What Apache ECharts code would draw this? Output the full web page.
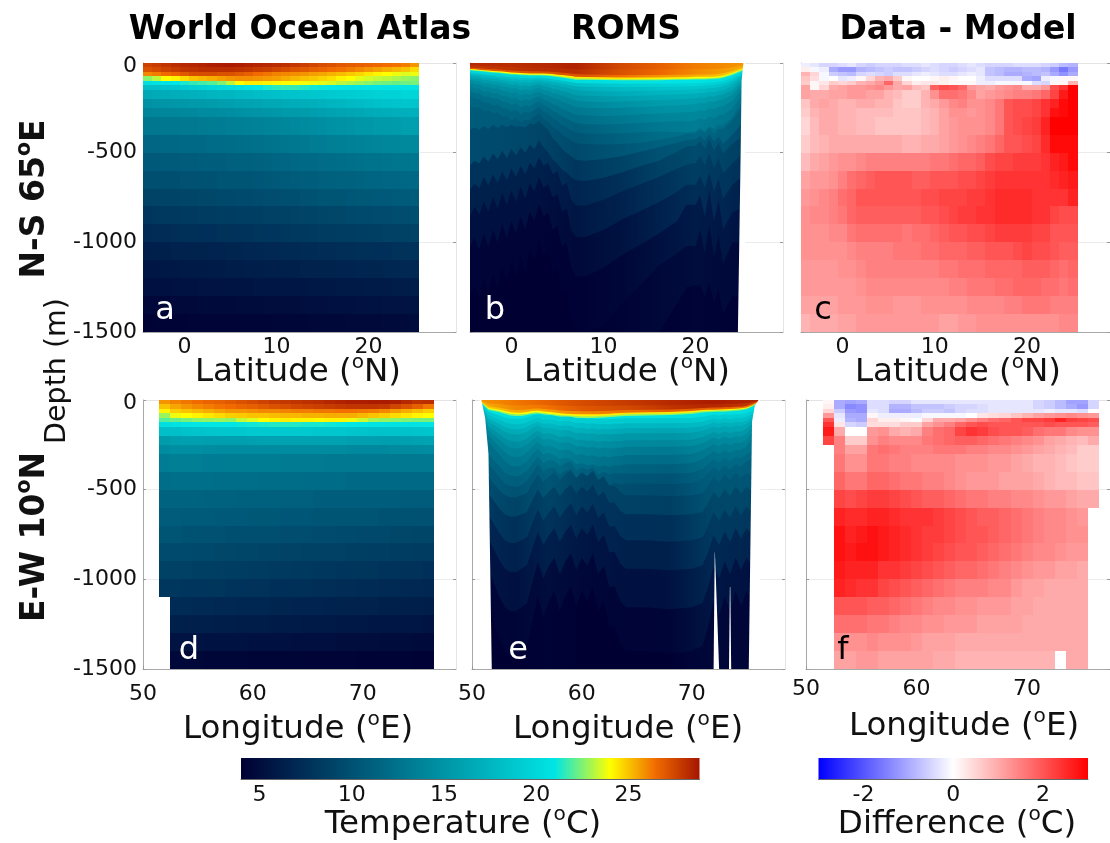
<!DOCTYPE html>
<html><head><meta charset="utf-8">
<script src="https://cdn.jsdelivr.net/npm/echarts@6/dist/echarts.min.js"></script>
<style>html,body{margin:0;padding:0;background:#fff;overflow:hidden}#c{width:1110px;height:843px}</style>
</head><body><div id="c"></div>
<script>
// ---------- shared axes ----------
const depthEdges=[0,25,50,75,100,125,150,200,250,300,400,500,600,700,800,900,1000,1100,1200,1300,1400,1500];
const latEdges=[-4.5,-3.5,-2.5,-1.5,-0.5,0.5,1.5,2.5,3.5,4.5,5.5,6.5,7.5,8.5,9.5,10.5,11.5,12.5,13.5,14.5,15.5,16.5,17.5,18.5,19.5,20.5,21.5,22.5,23.5,24.5,25.5];
const lonEdges=[51.5,52.5,53.5,54.5,55.5,56.5,57.5,58.5,59.5,60.5,61.5,62.5,63.5,64.5,65.5,66.5,67.5,68.5,69.5,70.5,71.5,72.5,73.5,74.5,75.5,76.5];
const latLabels=[0,10,20], latTicks=[0,5,10,15,20,25];
const lonLabels=[50,60,70], lonTicks=[50,55,60,65,70,75];
const tempTicks=[5,10,15,20,25], diffLabels=[-2,0,2], diffTicks=[-2,-1,0,1,2];
const tempStops=[4,21,24,26.5,29], tempColors=['#000033','#00e5e5','#ffff00','#f06a00','#a01000'];
const diffStops=[-3,0,3], diffColors=['#0000ff','#ffffff','#ff0000'];

// ---------- panel a: World Ocean Atlas, N-S 65E (rows by depth, columns by latitude) ----------
const woaNS=[
[27.6,27.8,28,28.2,28.3,28.4,28.5,28.6,28.7,28.7,28.6,28.5,28.4,28.3,28.2,28.1,27.9,27.7,27.5,27.3,27.2,27,26.9,26.8,26.7,26.6,26.5,26.4,26.2,25.8],
[27.2,27.4,27.6,27.8,28,28.1,28.2,28.2,28.2,28.2,28.1,28,27.8,27.7,27.5,27.3,27.1,27,26.8,26.7,26.5,26.4,26.2,26,25.8,25.6,25.4,25.2,25,24.6],
[26,26.2,26.5,26.7,27,27.3,27.3,27.3,27.2,27.2,27,26.8,26.5,26.3,26.1,26,25.9,25.8,25.6,25.5,25.3,25.1,24.9,24.7,24.4,24.2,24,23.8,23.6,23.8],
[22.6,23.2,24,24.2,24.6,25,25.2,25.4,25.6,25.8,25.9,25.9,25.8,25.7,25.6,25.4,25.2,25,24.9,24.7,24.5,24.2,24,23.7,23.5,23.3,23.2,23,22.8,22.6],
[20.5,20.7,20.8,21,21.3,21.6,21.8,22,22.5,23.2,24,24.3,24.3,24.2,24.1,24,24,23.9,23.8,23.7,23.5,23.2,23,22.8,22.6,22.4,22.3,22.2,22.3,22.4],
[18,18.2,18.4,18.6,19,19.3,19.5,19.8,20,20.3,20.5,20.8,21,21.3,21.5,21.6,21.6,21.4,21.2,21.1,21,20.9,20.8,20.8,20.8,20.8,20.8,20.8,20.8,20.9],
[16.5,16.6,16.8,16.9,17,17.1,17.2,17.4,17.5,17.6,17.8,17.9,18,18.2,18.3,18.4,18.5,18.6,18.7,18.8,19,19.1,19.2,19.3,19.4,19.5,19.6,19.7,19.8,19.8],
[14.8,15,15.1,15.2,15.3,15.4,15.5,15.6,15.7,15.8,16,16.1,16.2,16.4,16.5,16.7,16.8,16.9,17,17.2,17.4,17.5,17.7,17.9,18.1,18.3,18.4,18.5,18.6,18.6],
[13.8,13.9,14,14,14.1,14.2,14.3,14.4,14.5,14.6,14.7,14.9,15,15.1,15.2,15.4,15.5,15.6,15.8,15.9,16,16.2,16.3,16.5,16.6,16.8,16.9,17,17,17.1],
[12.8,12.8,12.9,12.9,13,13,13.1,13.2,13.3,13.4,13.5,13.6,13.7,13.8,13.9,14,14.2,14.3,14.5,14.6,14.8,14.9,15,15.2,15.3,15.4,15.5,15.6,15.7,15.8],
[11.6,11.6,11.7,11.7,11.8,11.8,11.9,12,12,12.1,12.2,12.3,12.4,12.5,12.6,12.7,12.9,13,13.2,13.3,13.4,13.5,13.6,13.7,13.8,13.9,14,14,14.1,14.1],
[10.6,10.6,10.7,10.7,10.8,10.8,10.9,11,11,11.1,11.2,11.2,11.3,11.4,11.5,11.6,11.7,11.8,11.9,12,12.1,12.2,12.3,12.4,12.5,12.5,12.6,12.7,12.7,12.8],
[9.8,9.8,9.9,9.9,10,10,10.1,10.1,10.2,10.2,10.3,10.3,10.4,10.5,10.6,10.7,10.8,10.9,11,11.1,11.2,11.3,11.3,11.4,11.5,11.5,11.6,11.6,11.7,11.7],
[9,9,9.1,9.1,9.2,9.2,9.3,9.3,9.4,9.4,9.5,9.5,9.6,9.7,9.7,9.8,9.9,10,10.1,10.2,10.3,10.3,10.4,10.5,10.5,10.6,10.6,10.7,10.7,10.8],
[8,8.1,8.2,8.2,8.3,8.3,8.4,8.4,8.5,8.5,8.6,8.6,8.7,8.8,8.8,8.9,9,9.1,9.1,9.2,9.3,9.3,9.4,9.5,9.5,9.6,9.6,9.7,9.7,9.8],
[7.2,7.3,7.3,7.4,7.5,7.5,7.6,7.6,7.7,7.7,7.8,7.8,7.9,8,8,8.1,8.2,8.2,8.3,8.4,8.4,8.5,8.5,8.6,8.7,8.7,8.8,8.8,8.9,9],
[6.3,6.4,6.4,6.5,6.5,6.6,6.6,6.7,6.7,6.8,6.8,6.9,6.9,7,7,7.1,7.1,7.2,7.2,7.3,7.3,7.4,7.4,7.5,7.5,7.6,7.6,7.7,7.7,7.8],
[5.7,5.7,5.8,5.8,5.9,5.9,5.9,6,6,6.1,6.1,6.2,6.2,6.3,6.3,6.4,6.4,6.5,6.5,6.6,6.6,6.7,6.7,6.8,6.8,6.8,6.9,6.9,7,7],
[5.2,5.2,5.2,5.3,5.3,5.3,5.4,5.4,5.4,5.5,5.5,5.5,5.6,5.6,5.6,5.7,5.7,5.7,5.8,5.8,5.8,5.9,5.9,5.9,6,6,6,6.1,6.1,6.2],
[4.6,4.6,4.6,4.7,4.7,4.7,4.8,4.8,4.8,4.8,4.9,4.9,4.9,5,5,5,5,5.1,5.1,5.1,5.2,5.2,5.2,5.3,5.3,5.3,5.4,5.4,5.4,5.5],
[4.1,4.2,4.2,4.2,4.2,4.3,4.3,4.3,4.3,4.3,4.4,4.4,4.4,4.4,4.5,4.5,4.5,4.5,4.6,4.6,4.6,4.6,4.7,4.7,4.7,4.7,4.8,4.8,4.8,4.9]];

// ---------- panel d: World Ocean Atlas, E-W 10N ----------
const woaEW=[
[25.8,26.1,26.3,26.5,26.7,26.8,27,27.2,27.4,27.6,27.8,27.9,28,28.1,28.2,28.4,28.5,28.6,28.6,28.7,28.7,28.6,28.3,28.1,28.2],
[25,25.5,25.8,26,26.2,26.4,26.5,26.7,26.8,27,27.2,27.3,27.5,27.6,27.7,27.8,27.9,28,28,28,27.9,27.5,27.2,26.8,26.3],
[24.2,24.8,25,25.2,25.4,25.6,25.8,25.8,25.9,26,26,26.1,26.2,26.2,26.3,26.3,26.4,26.4,26.3,26.2,26,25.7,25.4,25.1,24.8],
[22.8,23.8,24,24.2,24.4,24.6,24.8,24.9,25,25,25.1,25.2,25.2,25.3,25.3,25.4,25.4,25.4,25.2,25,24.8,24.6,24.4,24.2,24],
[22,22.2,22.4,22.6,22.7,22.8,22.7,23.3,23.6,24,24.2,24.3,24.2,24.2,24.1,24.2,24.2,23.8,23.4,22.9,22.7,22.6,22.5,22.4,22.4],
[20.5,20.7,20.9,21,21,21,21,21.1,21.2,21.3,21.4,21.4,21.4,21.3,21.3,21.2,21.1,21,21,20.9,20.8,20.8,20.8,20.8,20.9],
[18.2,18.2,18.4,18.5,18.6,18.7,18.8,18.8,18.9,18.9,19,19,19,18.9,18.8,18.8,18.7,18.6,18.5,18.4,18.4,18.4,18.4,18.5,18.6],
[15.6,15.8,15.9,15.9,15.8,15.8,15.8,15.8,15.9,16,16,16,16,16,16,16,16,15.9,15.9,15.9,15.8,15.8,15.9,16,16.1],
[14.4,14.6,14.6,14.6,14.5,14.4,14.4,14.4,14.4,14.4,14.4,14.4,14.4,14.4,14.4,14.3,14.3,14.2,14.2,14.2,14.2,14.3,14.3,14.4,14.5],
[13.3,13.4,13.4,13.4,13.3,13.3,13.2,13.2,13.2,13.2,13.2,13.1,13.1,13.1,13.1,13,13,13,13,13,13,13,13,13,13],
[12.2,12.3,12.3,12.3,12.3,12.2,12.2,12.2,12.2,12.1,12.1,12.1,12.1,12,12,12,12,11.9,11.9,11.9,11.9,11.8,11.8,11.8,11.8],
[11.4,11.4,11.4,11.4,11.3,11.3,11.3,11.2,11.2,11.2,11.2,11.1,11.1,11.1,11,11,11,11,10.9,10.9,10.9,10.9,10.8,10.8,10.8],
[10.8,10.8,10.7,10.7,10.7,10.6,10.6,10.6,10.5,10.5,10.5,10.4,10.4,10.4,10.3,10.3,10.3,10.2,10.2,10.2,10.1,10.1,10.1,10,10],
[10.2,10.2,10.1,10.1,10,10,9.9,9.9,9.9,9.8,9.8,9.7,9.7,9.7,9.6,9.6,9.5,9.5,9.4,9.4,9.4,9.3,9.3,9.2,9.2],
[9.6,9.5,9.5,9.4,9.4,9.3,9.3,9.2,9.2,9.1,9.1,9,9,8.9,8.9,8.8,8.8,8.7,8.7,8.6,8.6,8.5,8.5,8.4,8.4],
[8.9,8.8,8.8,8.7,8.7,8.6,8.5,8.5,8.4,8.4,8.3,8.3,8.2,8.2,8.1,8.1,8,8,7.9,7.9,7.8,7.8,7.7,7.7,7.6],
[8.1,8.1,8,8,7.9,7.9,7.8,7.8,7.7,7.7,7.6,7.6,7.5,7.5,7.4,7.4,7.3,7.3,7.2,7.2,7.1,7.1,7,7,6.9],
[null,7.2,7.2,7.1,7.1,7,7,6.9,6.9,6.9,6.8,6.8,6.7,6.7,6.7,6.6,6.6,6.5,6.5,6.5,6.4,6.4,6.3,6.3,6.2],
[null,6.4,6.3,6.3,6.3,6.2,6.2,6.1,6.1,6.1,6,6,6,5.9,5.9,5.9,5.8,5.8,5.8,5.7,5.7,5.7,5.6,5.6,5.5],
[null,5.4,5.4,5.4,5.3,5.3,5.3,5.3,5.2,5.2,5.2,5.2,5.1,5.1,5.1,5.1,5,5,5,5,4.9,4.9,4.9,4.8,4.8],
[null,4.6,4.6,4.6,4.5,4.5,4.5,4.5,4.4,4.4,4.4,4.4,4.4,4.3,4.3,4.3,4.3,4.3,4.2,4.2,4.2,4.2,4.2,4.1,4.1]];

// ---------- panel c: Data - Model, N-S 65E ----------
const diffNS=[
[-0.2,-0.3,-0.5,-0.5,-0.4,-0.3,-0.5,-0.6,-0.5,-0.5,-0.5,-0.4,-0.4,-0.3,-0.4,-0.5,-0.5,-0.4,-0.3,-0.4,-0.5,-0.5,-0.5,-0.4,-0.4,-0.4,-0.5,-0.6,-0.8,-0.9],
[0.2,-0.1,-0.2,-1,-1.2,-1.2,-0.9,-0.8,-0.7,-0.6,-0.7,-0.7,-0.6,-0.5,-0.4,-0.5,-0.6,-0.5,-0.4,-0.3,-0.7,-0.8,-0.9,-0.9,-0.8,-0.8,-0.9,-1.2,-1.6,-1.2],
[0.9,0.5,-0.1,-0.6,-0.7,-0.8,-0.5,-0.4,-0.5,-0.6,-0.4,-0.4,-0.3,-0.2,-0.3,-0.4,-0.4,-0.3,-0.2,-0.3,-0.7,-0.8,-1,-1,-0.9,-0.8,-0.7,-1,-1.3,-1],
[0.7,0.4,-0.1,0,-0.3,-0.2,0.1,0.5,0.9,1,0.6,0.1,0,0,0.1,0.2,0.1,0,0,-0.2,-0.4,-0.4,-0.4,-0.4,-1,-1.1,-0.2,-0.1,0.1,0.1],
[0.6,0.1,0.3,0.6,0.5,0.6,0.9,1,1.2,1.8,1,0.5,0.2,0.3,0.3,0.2,0.1,0.1,0.1,-0.2,-0.2,-0.1,-0.1,-0.1,-0.1,-0.4,-0.5,0.1,0.1,0.9],
[1.1,0.1,0.5,1,1.1,1.2,1.2,1.3,1.4,1.2,1,1.1,0.8,0.7,1.9,2.1,2,1.8,1.2,1.1,1,1.2,1.3,1.4,1,1,1.2,2.1,2.4,3],
[1.1,1,1,1.1,1.1,1.2,1.2,1.1,1.1,0.9,0.8,0.6,0.6,0.9,1.3,1.7,1.7,1.6,1.4,1.1,1.2,1.3,1.4,1.5,1.5,1.6,1.8,2.2,2.7,3],
[0.7,1,1.1,1,0.9,0.9,1,1,0.9,0.9,0.7,0.6,0.6,0.9,1,1.2,1.4,1.5,1.3,1.3,1.4,1.6,2,2.1,2.1,2.2,2.4,2.6,2.9,3],
[0.6,0.9,1,1,0.9,0.9,0.8,0.8,0.8,0.8,0.7,0.7,0.7,0.8,0.9,1.1,1.3,1.3,1.2,1.3,1.4,1.6,2,2.1,2.1,2.2,2.4,2.8,2.9,3],
[0.5,0.8,1,1,0.9,0.9,0.8,0.8,0.7,0.7,0.7,0.7,0.7,0.8,0.9,1.1,1.2,1.3,1.3,1.3,1.4,1.6,2,2.1,2.2,2.3,2.6,3,3,3],
[0.6,0.8,0.9,1,1,1,1,1,1,1,1,0.9,0.9,1,1,1.1,1.2,1.3,1.4,1.5,1.6,1.8,2,2,2.1,2.2,2.5,2.9,2.9,2.9],
[0.8,1,1.1,1.2,1.3,1.3,1.4,1.5,1.5,1.5,1.5,1.5,1.5,1.5,1.6,1.6,1.7,1.8,1.8,1.9,2.1,2.2,2.2,2.3,2.3,2.3,2.4,2.6,2.7,2.9],
[1.1,1.2,1.2,1.3,1.5,1.7,1.8,1.9,2,2,2,2,1.9,1.9,2,2,2,2.1,2.1,2.2,2.3,2.4,2.4,2.4,2.4,2.4,2.4,2.5,2.6,2.7],
[1.2,1.3,1.4,1.5,1.7,1.8,2,2,2,2,2,2,2,2.1,2.1,2.2,2.2,2.2,2.3,2.3,2.4,2.5,2.5,2.5,2.5,2.4,2.4,2.4,2.4,2.6],
[1.3,1.4,1.4,1.5,1.6,1.8,1.9,1.9,1.9,1.9,1.9,1.9,1.9,2,2,2.1,2.2,2.3,2.3,2.4,2.4,2.5,2.5,2.5,2.5,2.4,2.4,2.2,2.1,2.1],
[1.3,1.3,1.3,1.4,1.4,1.6,1.7,1.7,1.7,1.7,1.7,1.6,1.7,1.7,1.8,1.9,2,2,2.1,2.1,2.2,2.3,2.3,2.3,2.3,2.2,2.2,2,2,2],
[1.3,1.3,1.3,1.3,1.3,1.4,1.5,1.5,1.5,1.5,1.6,1.6,1.6,1.7,1.7,1.8,1.8,1.8,1.9,1.9,2,2,2,2.1,2.2,2.1,2.1,2,1.9,1.9],
[1.2,1.2,1.2,1.2,1.3,1.3,1.4,1.5,1.5,1.5,1.5,1.5,1.5,1.5,1.5,1.6,1.6,1.7,1.7,1.7,1.8,1.8,1.8,1.8,1.9,1.9,1.9,1.8,1.7,1.8],
[1.2,1.2,1.2,1.2,1.2,1.2,1.3,1.4,1.4,1.4,1.4,1.4,1.4,1.4,1.4,1.4,1.5,1.5,1.6,1.6,1.6,1.7,1.7,1.8,1.8,1.8,1.7,1.7,1.6,1.7],
[1.1,1.1,1.1,1.1,1.2,1.2,1.2,1.3,1.3,1.3,1.2,1.2,1.2,1.3,1.3,1.3,1.3,1.3,1.4,1.4,1.4,1.4,1.5,1.5,1.6,1.6,1.6,1.5,1.5,1.5],
[0.9,1,1,1,1.1,1.1,1.2,1.2,1.2,1.2,1.2,1.2,1.2,1.2,1.2,1.1,1.1,1.2,1.2,1.3,1.3,1.3,1.3,1.3,1.3,1.3,1.3,1.3,1.4,1.4]];

// ---------- panel f: Data - Model, E-W 10N ----------
const diffEW=[
[0.1,-1,-1.1,-1,-0.4,-0.4,-0.5,-0.5,-0.3,-0.3,-0.3,-0.3,-0.3,-0.3,-0.3,-0.3,-0.3,-0.3,-0.3,-0.5,-0.6,-0.8,-1.1,-1.1,-0.5],
[0.2,-1,-1.4,-1.3,-0.4,-0.4,-0.9,-0.9,-0.7,-0.7,-0.7,-0.6,-0.5,-0.5,-0.4,-0.3,-0.3,-0.3,-0.3,-0.5,-0.6,-0.8,-1,-1.2,-0.5],
[0.5,-0.6,-1.2,-1.3,-0.3,-0.4,-1,-1,-0.8,-0.6,-0.6,-0.7,-0.5,-0.4,-0.4,-0.3,-0.3,-0.3,-0.3,-0.3,-0.2,-0.3,-0.3,-0.4,0],
[1.2,-0.3,-1,-1,0.1,-0.2,-0.2,-0.2,-0.2,-0.1,-0.1,-0.1,-0.1,0,0.3,0.4,0.5,0.7,0.9,1.1,1.2,1.3,1.4,1.3,1.2],
[2,-0.2,-0.9,-1,0.5,0.2,0.2,0.1,0,0.5,1,1,1.1,1.3,1.5,1.7,1.8,2,2.2,2.2,2.3,2.6,2.3,2.2,2.1],
[2.4,0.3,-0.5,-0.6,0.4,0.4,0.4,0.6,0.6,1.1,1.3,1.5,1.8,2,2.1,2,2,2,2,2,2.1,2,2,2,1.9],
[2.7,1,0,0,1.2,1.3,1,0.9,1,1.5,1.7,1.8,2.2,2.4,2.3,2.1,2,2,1.9,1.7,1.6,1.6,1.4,1.3,1.3],
[2.2,1.5,0.6,0.6,1.3,1.5,1.4,1.4,1.4,1.6,1.7,1.8,1.9,1.9,1.8,1.7,1.6,1.5,1.4,1.3,1.1,1,0.9,0.8,1],
[null,1.5,1.1,1.1,1.6,1.7,1.6,1.5,1.5,1.5,1.6,1.6,1.6,1.5,1.5,1.4,1.4,1.3,1.2,1.1,1,0.9,0.8,0.6,0.6],
[null,1.6,1.3,1.3,1.6,1.6,1.5,1.5,1.4,1.4,1.4,1.4,1.3,1.3,1.3,1.2,1.2,1.1,1,0.9,0.9,0.8,0.7,0.6,0.6],
[null,1.8,1.6,1.6,1.8,1.8,1.7,1.6,1.6,1.5,1.5,1.4,1.3,1.2,1.2,1.2,1.1,1.1,1.1,1,0.9,0.8,0.8,0.7,0.7],
[null,2.2,2.1,2.2,2.3,2.3,2.2,2.1,2,1.9,1.9,1.8,1.7,1.6,1.6,1.5,1.5,1.4,1.4,1.3,1.2,1.2,1.1,1,1],
[null,2.6,2.5,2.5,2.6,2.6,2.5,2.4,2.4,2.4,2.3,2.2,2.1,2,1.9,1.9,1.8,1.7,1.6,1.5,1.4,1.4,1.3,1.2,null],
[null,2.8,2.6,2.7,2.8,2.7,2.6,2.5,2.4,2.3,2.3,2.2,2.1,2,2,1.9,1.8,1.7,1.6,1.5,1.4,1.4,1.3,1.3,null],
[null,2.8,2.7,2.8,2.8,2.7,2.6,2.5,2.4,2.3,2.2,2.1,2,2,1.9,1.8,1.7,1.6,1.5,1.4,1.4,1.3,1.2,1.2,null],
[null,2.7,2.6,2.6,2.6,2.4,2.4,2.3,2.2,2.1,2,1.9,1.8,1.8,1.7,1.6,1.5,1.4,1.3,1.2,1.2,1.1,1.1,1,null],
[null,2.6,2.5,2.4,2.4,2.2,2.1,2,1.9,1.8,1.7,1.6,1.5,1.5,1.5,1.4,1.4,1.2,1.1,1.1,1,1,1,1,null],
[null,2,2,2,1.9,1.9,1.8,1.7,1.6,1.5,1.4,1.4,1.3,1.3,1.2,1.2,1.2,1.1,1.1,1,1,1,1,1,null],
[null,1.7,1.7,1.7,1.6,1.6,1.5,1.4,1.4,1.3,1.3,1.2,1.2,1.2,1.1,1.1,1.1,1.1,1,1,1,1,1,1,null],
[null,1.3,1.3,1.3,1.4,1.3,1.3,1.3,1.2,1.1,1.1,1.1,1,1,1,1,1,1,1,1,1,1,1,1,null],
[null,1.1,1.1,1.2,1.2,1.1,1.1,1.1,1.1,1.1,1,1,0.9,0.9,0.9,0.9,0.9,0.9,0.9,0.9,0.9,null,1,1,null]];

// ---------- panel b: ROMS N-S, model layers (layer tops in m along romsNSLat; temperature along romsNSAnchor) ----------
const romsNSLat=[-4.5,-4,-3.5,-3,-2.5,-2,-1.5,-1,-0.5,0,0.5,1,1.5,2,2.5,3,3.5,4,4.5,5,5.5,6,6.5,7,8,10,12,14,16,18,19,20,20.5,21,21.5,22,22.5,23,24,25.3];
const romsNSAnchor=[-4.5,0,3,7,12,16,20,25.3];
const romsNSTops=[
[0,0,0,0,0,0,0,0,0,0,0,0,0,0,0,0,0,0,0,0,0,0,0,0,0,0,0,0,0,0,0,0,0,0,0,0,0,0,0,0],
[14,15,16,17,18,19,20,21,22,23,24,25,26,26,26,26,27,28,29,30,31,32,34,35,36,36,36,36,36,35,35,34,34,34,34,33,32,30,24,12],
[26,28,29,31,33,34,36,38,40,42,43,44,45,46,46,46,47,48,50,52,54,56,59,62,64,66,67,67,67,66,66,64,64,64,64,63,61,57,45,24],
[33,35,37,40,42,44,46,48,50,53,54,56,57,58,58,58,59,60,62,65,67,70,73,76,78,80,81,81,81,79,79,77,77,77,77,76,74,70,55,30],
[37,40,42,45,48,50,52,54,57,60,61,63,64,65,65,65,66,67,70,73,76,79,82,86,87,89,90,90,89,88,88,86,86,86,85,84,82,78,62,35],
[41,44,46,49,52,54,56,59,62,65,66,68,69,70,70,70,71,72,75,78,81,85,89,93,94,95,96,96,96,94,94,92,92,92,91,90,88,84,68,40],
[52,56,58,62,64,67,69,73,76,80,80,84,83,85,83,82,85,86,92,94,99,102,107,111,113,115,116,116,115,114,113,112,111,110,109,108,105,100,84,50],
[60,64,66,71,73,77,79,84,87,92,91,97,95,98,94,92,97,99,106,108,114,118,125,130,132,134,135,134,133,131,130,128,127,126,124,123,119,114,98,58],
[68,73,75,82,83,88,89,96,99,105,103,112,108,112,106,103,110,113,122,124,132,137,145,152,155,157,157,155,153,150,148,146,144,144,140,140,135,130,112,66],
[78,85,86,96,96,103,103,112,114,123,119,131,125,130,122,118,128,132,143,146,156,162,171,180,183,186,185,182,179,175,173,170,167,168,162,163,156,151,131,78],
[92,100,101,113,113,121,121,132,134,144,140,154,147,153,144,138,150,155,168,172,184,191,201,210,214,217,215,211,207,202,200,197,192,194,186,188,179,174,152,92],
[108,118,119,133,133,143,142,155,157,169,164,180,172,178,167,160,174,180,196,201,216,224,235,245,250,252,250,245,240,235,233,229,222,226,215,218,207,202,178,108],
[130,142,143,159,159,170,169,184,186,200,193,212,202,208,195,186,204,211,230,237,255,265,277,288,293,296,293,286,281,276,274,270,262,268,252,258,244,240,212,130],
[155,168,169,187,187,200,198,215,218,234,226,247,236,241,226,215,236,245,268,277,298,310,323,335,341,343,340,333,328,325,325,320,308,318,298,308,290,288,255,155],
[185,200,201,221,220,235,233,252,254,272,263,286,273,278,260,246,272,283,310,322,346,360,375,387,393,395,392,385,382,385,386,382,362,378,352,368,345,348,305,190],
[240,250,248,268,262,282,276,300,298,320,306,332,316,320,298,282,314,326,358,372,400,416,432,446,452,454,451,445,430,410,395,390,368,392,358,395,368,370,318,230],
[370,360,372,350,368,345,362,345,358,345,355,352,360,338,345,320,350,375,420,445,480,502,522,539,545,535,520,495,470,445,430,425,405,432,398,438,410,450,400,320],
[570,545,560,520,550,505,535,490,530,480,515,470,500,455,480,430,470,500,540,560,595,612,637,654,658,640,610,575,545,495,465,462,435,478,425,488,445,505,450,400],
[706,672,698,636,682,620,668,604,652,588,636,572,620,556,588,524,572,556,620,604,684,668,763,795,795,763,715,676,636,588,567,557,520,570,505,585,530,615,557,500],
[855,800,845,770,830,745,810,725,790,710,775,690,755,670,715,635,695,675,750,730,830,810,930,970,970,931,873,825,776,718,679,679,630,695,610,715,645,755,679,620],
[1022,975,1040,950,1025,930,1000,900,975,880,950,855,930,830,880,785,855,835,930,905,1025,1000,1140,1190,1190,1142,1071,1012,952,881,790,790,738,857,714,881,762,928,833,800],
[1300,1240,1320,1200,1290,1170,1260,1130,1220,1100,1190,1070,1160,1040,1100,980,1070,1040,1160,1130,1280,1250,1420,1500,1500,1460,1340,1240,1130,1060,1020,1020,930,1060,900,1080,960,1120,1000,1000],
[1500,1500,1500,1500,1500,1500,1500,1500,1500,1500,1500,1500,1500,1500,1500,1500,1500,1500,1500,1500,1500,1500,1500,1500,1500,1500,1500,1500,1500,1340,1250,1240,1240,1300,1220,1340,1260,1400,1300,1300]];
const romsNSTemps=[
[28.3,28.2,28.3,28.5,27.4,26.8,26.2,25.8],[28,28,28.2,28.2,27.2,26.6,26,25.4],[27,27,27.2,27.2,26.4,25.8,25.4,24.8],
[24,24,24,24.4,24.4,24.2,24,23.6],[22,22,22.2,22.8,22.8,22.8,22.4,22],[20,19.8,20,20.3,20.6,20.8,20.8,20.2],
[18.6,18.4,18.4,18.2,19,19.6,19.8,19],[17.6,17.4,17.3,16.8,17.8,18.4,18.8,18],[16.6,16.4,16.3,15.8,16.8,17.4,17.8,17],
[15.6,15.4,15.3,14.8,15.8,16.5,16.8,16],[14.6,14.5,14.4,13.8,14.8,15.6,15.8,15],[13.8,13.7,13.5,12.9,13.8,14.7,14.9,14],
[13,12.9,12.6,12,12.9,13.8,14,13.2],[12.2,12.1,11.8,11,12,12.9,13.2,12.4],[11.5,11.3,11,10.2,11.2,12,12.4,11.6],
[10.8,10.6,10.2,9.4,10.3,11.2,11.6,10.8],[9.6,9.4,9.2,8,9,10,10.6,9.6],[7.8,7.8,7.8,6.7,7.6,8.8,9.6,8.6],
[6.4,6.4,6.4,5.6,6.5,7.6,8.6,7.6],[5.2,5.2,5.2,4.7,5.3,6.4,7.4,6.4],[4.3,4.3,4.3,4.1,4.5,5.2,6,5.4],
[4,4,4,4,4.2,4.6,5,4.6],[4,4,4,4,4,4.1,4.3,4.1]];
const romsNSLand=[[[25.4,0],[25.2,0],[25,100],[24.9,500],[24.6,1500],[25.4,1500]]];

// ---------- panel e: ROMS E-W ----------
const romsEWLon=[50.8,51.5,52.5,53,53.5,54,54.5,55,55.5,56,56.5,57,57.5,58,58.5,59,59.5,60,60.5,61,61.5,62,62.5,63,63.5,64,66,68,70,71,71.5,72,72.5,73,73.5,74,74.5,75,75.5,76.2];
const romsEWAnchor=[50.8,54,57,60,64,68,72,76.2];
const romsEWTops=[
[0,0,0,0,0,0,0,0,0,0,0,0,0,0,0,0,0,0,0,0,0,0,0,0,0,0,0,0,0,0,0,0,0,0,0,0,0,0,0,0],
[4,19,23,27,29,30,30,29,27,26,27,29,30,32,32,33,34,34,34,34,34,33,32,32,31,30,29,29,27,24,23,23,22,22,21,21,20,18,13,3],
[8,35,43,49,54,56,56,53,49,47,50,53,55,59,60,61,62,63,63,63,62,62,60,59,57,56,54,53,49,44,43,42,42,41,40,38,37,33,23,6],
[10,45,54,62,69,71,71,67,62,60,64,67,70,74,76,78,79,80,80,80,79,78,76,74,73,71,69,67,62,56,54,54,53,52,50,49,46,42,30,8],
[11,50,61,70,77,80,80,76,70,68,72,76,79,84,86,87,89,90,90,90,89,88,86,84,82,80,77,76,70,63,61,60,59,59,57,55,52,47,33,9],
[12,56,68,78,86,89,89,84,78,75,80,84,88,93,95,97,99,100,100,100,99,98,95,93,91,89,86,84,78,70,68,67,66,65,63,61,58,52,37,10],
[20,66,87,97,104,106,104,97,87,78,87,84,88,94,92,94,102,100,104,102,106,104,106,104,104,102,102,102,100,94,88,82,86,80,84,80,80,73,61,20],
[26,85,110,124,133,135,133,124,110,99,110,107,112,120,117,120,130,127,133,130,135,133,135,133,133,130,130,130,127,120,112,104,109,101,107,101,101,94,78,26],
[32,103,134,150,161,164,161,150,134,120,134,130,136,145,142,145,158,155,161,158,164,161,164,161,161,158,158,158,155,145,136,126,133,123,130,123,123,114,95,32],
[37,121,158,177,190,193,190,177,158,141,158,153,160,171,167,171,186,182,190,186,193,190,193,190,190,186,186,186,182,171,160,149,156,145,153,145,145,134,112,37],
[45,146,190,213,228,233,228,213,190,170,190,184,193,206,202,206,224,220,228,224,233,228,233,228,228,224,224,224,220,206,193,179,188,175,184,175,175,161,134,45],
[52,170,222,248,266,271,266,248,222,198,222,214,224,240,235,240,261,256,266,261,271,266,271,266,266,261,261,261,256,240,224,209,219,204,214,204,204,188,157,52],
[61,200,261,292,313,319,313,292,261,233,261,252,264,282,276,282,307,301,313,307,319,313,319,313,313,307,307,307,301,282,264,246,258,239,252,239,239,221,184,61],
[72,233,304,340,365,372,365,340,304,272,304,294,308,329,322,329,358,351,365,358,372,365,372,365,365,358,358,358,351,329,308,286,301,279,294,279,279,258,215,72],
[140,300,370,405,420,428,418,395,355,315,352,335,340,370,350,345,395,375,390,375,415,400,415,405,410,410,410,410,405,385,358,330,350,322,342,318,325,300,280,140],
[190,355,430,465,480,485,475,450,405,360,400,378,380,415,395,385,440,415,435,410,465,445,475,460,470,466,466,470,462,440,408,375,400,365,390,358,372,340,330,190],
[300,430,505,531,542,542,531,520,467,414,457,425,404,446,414,393,435,404,425,393,446,425,478,478,515,531,531,536,531,520,478,425,457,414,446,404,435,404,425,330],
[382,522,605,637,650,650,637,624,560,497,548,510,484,535,497,471,522,484,510,471,535,510,573,573,618,637,637,643,637,624,573,510,548,497,535,484,522,484,510,420],
[470,641,743,782,798,798,782,766,688,610,673,626,594,657,610,579,641,594,626,579,657,626,704,704,759,782,782,790,782,766,704,626,673,610,657,594,641,594,626,547],
[565,772,894,941,960,960,941,922,828,734,809,753,715,790,734,696,772,715,753,696,790,753,847,847,913,941,941,950,941,922,847,753,809,734,790,715,772,715,753,659],
[693,947,1097,1155,1178,1178,1155,1132,1016,901,993,924,878,970,901,855,947,878,924,855,970,924,1040,1040,1120,1155,1155,1167,1155,1132,1040,924,993,901,970,878,947,878,924,808],
[840,1148,1330,1400,1428,1428,1400,1372,1232,1092,1204,1120,1064,1176,1092,1036,1148,1064,1120,1036,1176,1120,1260,1260,1358,1400,1400,1414,1400,1372,1260,1120,1204,1092,1176,1064,1148,1064,1120,980]];
const romsEWTemps=[
[25.8,26.3,26.8,27.3,27.8,28.3,28.7,28.4],[25.4,26,26.4,27,27.4,28,28.4,27.8],[24.8,25.4,25.6,26,26.4,26.8,26.8,26.2],
[23.8,24,24,24.2,24.4,24.4,24.2,24],[22.4,22.6,22.6,22.8,22.8,22.8,22.4,22.2],[20.6,20.6,20.8,20.8,20.8,20.6,20.5,20.4],
[19,19,19.6,19.3,19,18.8,19.2,19.3],[18,17.8,18.6,18.1,17.6,17.4,18,18.3],[17,16.6,17.6,17,16.4,16.2,17,17.3],
[16,15.5,16.6,15.8,15.2,15,16,16.3],[15,14.5,15.6,14.8,14.2,14,15,15.3],[14,13.6,14.7,13.8,13.2,13,14,14.4],
[13.2,12.7,13.8,12.8,12.2,12,13.1,13.5],[12.4,11.8,12.9,11.9,11.3,11,12.3,12.6],[11.6,10.9,12,11,10.4,10.1,11.6,11.8],
[10.8,10,11.1,10.1,9.7,9.4,11,11],[9.8,9,10.2,9.2,8.8,8.7,10.2,10.2],[8.4,7.6,9,8,7.6,7.5,9.3,9.2],
[7,6.4,7.8,6.8,6.4,6.4,8.3,8],[5.6,5.2,6.4,5.6,5.2,5.3,7,6.6],[4.4,4.4,5,4.6,4.3,4.4,5.6,5.2],[4,4,4.2,4,4,4,4.6,4.4]];
const romsEWLand=[
[[50.7,0],[50.85,0],[51.2,100],[51.5,300],[51.8,1500],[50.7,1500]],
[[76.25,0],[76.1,0],[75.75,30],[75.5,120],[75.2,1500],[76.25,1500]],
[[72.1,850],[72.12,850],[72.5,1500],[72,1500]],
[[73.48,1043],[73.52,1043],[73.6,1500],[73.4,1500]]];

// ---------- helpers ----------
const FONT='DejaVu Sans';
function hex(c){return [1,3,5].map(i=>parseInt(c.substr(i,2),16));}
function ramp(stops,cols,v){
  if(v<=stops[0])return cols[0];
  for(let i=1;i<stops.length;i++){ if(v<=stops[i]){
    const t=(v-stops[i-1])/(stops[i]-stops[i-1]),a=hex(cols[i-1]),b=hex(cols[i]);
    return 'rgb('+a.map((x,j)=>Math.round(x+(b[j]-x)*t)).join(',')+')';}}
  return cols[cols.length-1];
}
const tempCol=v=>ramp(tempStops,tempColors,v), diffCol=v=>ramp(diffStops,diffColors,v);

function cellSeries(idx,rows,xe,colorFn){
  const data=[];
  rows.forEach((r,j)=>r.forEach((v,i)=>{ if(v!==null) data.push([xe[i],xe[i+1],depthEdges[j],depthEdges[j+1],v]); }));
  return {type:'custom',xAxisIndex:idx*2,yAxisIndex:idx*2,z:3,silent:true,data,encode:{x:[0,1],y:[2,3]},
    renderItem(p,api){
      const a=api.coord([api.value(0),-api.value(2)]),b=api.coord([api.value(1),-api.value(3)]);
      const x=Math.round(a[0]),y=Math.round(a[1]);
      return {type:'rect',shape:{x,y,width:Math.round(b[0])-x,height:Math.round(b[1])-y},style:{fill:colorFn(api.value(4))}};
    }};
}
function layerSeries(idx,xs,anchors,tops,temps){
  return {type:'custom',xAxisIndex:idx*2,yAxisIndex:idx*2,z:3,silent:true,clip:true,data:tops.map((_,k)=>[k]),encode:{x:[],y:[]},
    renderItem(p,api){
      const k=api.value(0), pts=xs.map((x,i)=>api.coord([x,-tops[k][i]]));
      pts.push(api.coord([xs[xs.length-1],-1500]),api.coord([xs[0],-1500]));
      const x0=api.coord([anchors[0],0])[0],x1=api.coord([anchors[anchors.length-1],0])[0];
      const stops=anchors.map((a,i)=>({offset:(api.coord([a,0])[0]-x0)/(x1-x0),color:tempCol(temps[k][i])}));
      return {type:'polygon',shape:{points:pts},style:{fill:new echarts.graphic.LinearGradient(x0,0,x1,0,stops,true)}};
    }};
}
function landSeries(idx,polys){
  return {type:'custom',xAxisIndex:idx*2,yAxisIndex:idx*2,z:4,silent:true,data:polys.map((_,k)=>[k]),encode:{x:[],y:[]},
    renderItem(p,api){
      return {type:'polygon',shape:{points:polys[api.value(0)].map(q=>api.coord([q[0],-q[1]]))},style:{fill:'#fff'}};
    }};
}
const grids=[],xAxes=[],yAxes=[];
function panel(left,top,width,min,max,labels,ticks,showY,margin){
  const g=grids.length;
  grids.push({left,top,width,height:269});
  const lineDark={show:true,onZero:false,lineStyle:{color:'#a8a8a8',width:1}}, lineLight={show:true,onZero:false,lineStyle:{color:'#e4e4e4',width:1}};
  xAxes.push({type:'value',gridIndex:g,position:'bottom',min,max,axisLine:lineDark,splitLine:{show:false},
    axisTick:{show:true,inside:true,length:3,lineStyle:{color:'#999'},customValues:ticks},
    axisLabel:{show:true,customValues:labels,fontFamily:FONT,fontSize:22,color:'#111',margin}});
  xAxes.push({type:'value',gridIndex:g,position:'top',min,max,axisLine:lineLight,splitLine:{show:false},
    axisTick:{show:true,inside:true,length:3,lineStyle:{color:'#aaa'},customValues:ticks},axisLabel:{show:false}});
  yAxes.push({type:'value',gridIndex:g,position:'left',min:-1500,max:0,interval:500,axisLine:lineDark,
    splitLine:{show:true,lineStyle:{color:'#ececec',width:1}},
    axisTick:{show:true,inside:true,length:3,lineStyle:{color:'#999'}},
    axisLabel:{show:showY,fontFamily:FONT,fontSize:22,color:'#111',margin:6,
      formatter:v=>v===0?'{z|0}':String(v),rich:{z:{fontFamily:FONT,fontSize:22,color:'#111',padding:[6,0,0,0]}}}});
  yAxes.push({type:'value',gridIndex:g,position:'right',min:-1500,max:0,interval:500,axisLine:lineLight,splitLine:{show:false},
    axisTick:{show:true,inside:true,length:3,lineStyle:{color:'#999'}},axisLabel:{show:false}});
}
panel(143,63,313,-4.5,29.5,latLabels,latTicks,true,4);
panel(470,63,313,-4.5,29.5,latLabels,latTicks,false,4);
panel(801,63,309,-4.5,29,latLabels,latTicks,false,4);
panel(143,400,313,50,78.5,lonLabels,lonTicks,true,14);
panel(472,400,313,50,78.5,lonLabels,lonTicks,false,14);
panel(806,400,304,50,77.5,lonLabels,lonTicks,false,9);

function colorbar(left,width,min,max,labels,ticks,stops,cols,s){
  const g=grids.length;
  grids.push({left,top:758,width,height:21});
  xAxes.push({type:'value',gridIndex:g,position:'bottom',min,max,
    axisLine:{show:true,onZero:false,lineStyle:{color:'#666'}},splitLine:{show:false},
    axisTick:{show:true,inside:true,length:4,lineStyle:{color:'#555'},customValues:ticks},
    axisLabel:{show:true,customValues:labels,fontFamily:FONT,fontSize:22,color:'#111',margin:5}});
  yAxes.push({type:'value',gridIndex:g,min:0,max:1,show:false});
  s.push({type:'custom',xAxisIndex:xAxes.length-1,yAxisIndex:yAxes.length-1,z:1,silent:true,data:[[min,max]],encode:{x:[0,1],y:[]},
    renderItem(p,api){
      const a=api.coord([api.value(0),1]),b=api.coord([api.value(1),0]);
      const grad=stops.filter(v=>v<=max).map((v,i)=>({offset:(v-min)/(max-min),color:cols[i]}));
      grad.push({offset:1,color:ramp(stops,cols,max)});
      return {type:'rect',shape:{x:a[0],y:a[1],width:b[0]-a[0],height:b[1]-a[1]},
        style:{fill:new echarts.graphic.LinearGradient(a[0],0,b[0],0,grad,true)}};
    }});
}
const series=[
  cellSeries(0,woaNS,latEdges,tempCol),
  layerSeries(1,romsNSLat,romsNSAnchor,romsNSTops,romsNSTemps), landSeries(1,romsNSLand),
  cellSeries(2,diffNS,latEdges,diffCol),
  cellSeries(3,woaEW,lonEdges,tempCol),
  layerSeries(4,romsEWLon,romsEWAnchor,romsEWTops,romsEWTemps), landSeries(4,romsEWLand),
  cellSeries(5,diffEW,lonEdges,diffCol)];
colorbar(241,458.5,4,28.85,tempTicks,tempTicks,tempStops,tempColors,series);
colorbar(818.5,269.5,-3,3,diffLabels,diffTicks,diffStops,diffColors,series);

// ---------- text ----------
function richFor(size,weight){return {
  t:{fontFamily:FONT,fontSize:size,fontWeight:weight,fill:'#111',lineHeight:size*1.25},
  s:{fontFamily:FONT,fontSize:size*0.62,fontWeight:weight,fill:'#111',lineHeight:size*1.25,verticalAlign:'top',padding:[0,0,size*0.35,0]}};}
function sup(a,b){return '{t|'+a+'}{s|o}{t|'+b+'}';}
function txt(x,y,text,size,weight,rot){
  return {type:'text',x,y,rotation:rot||0,z:20,silent:true,style:{text,rich:richFor(size,weight),fontFamily:FONT,align:'center',verticalAlign:'middle'}};
}
function plain(x,y,text,size,weight,fill){
  return {type:'text',x,y,z:20,silent:true,style:{text,fontFamily:FONT,fontSize:size,fontWeight:weight,fill,align:'center',verticalAlign:'middle'}};
}
const R=Math.PI/2;
const graphics=[
  plain(300,30,'World Ocean Atlas',33,'bold','#000'),plain(626,30,'ROMS',33,'bold','#000'),plain(958,30,'Data - Model',33,'bold','#000'),
  txt(298,373,sup('Latitude (','N)'),32.5,'normal'),txt(627,373,sup('Latitude (','N)'),32.5,'normal'),txt(958,373,sup('Latitude (','N)'),32.5,'normal'),
  txt(298,730,sup('Longitude (','E)'),32.5,'normal'),txt(628,730,sup('Longitude (','E)'),32.5,'normal'),txt(964,727,sup('Longitude (','E)'),32.5,'normal'),
  txt(463,825,sup('Temperature (','C)'),32.5,'normal'),txt(957,825,sup('Difference (','C)'),32.5,'normal'),
  txt(35,199,sup('N-S 65','E'),33,'bold',R),txt(35,537,sup('E-W 10','N'),33,'bold',R),
  {type:'text',x:58,y:371,rotation:R,z:20,silent:true,style:{text:'Depth (m)',fontFamily:FONT,fontSize:28.5,fill:'#111',align:'center',verticalAlign:'middle'}},
  plain(165,311,'a',32,'normal','#fff'),plain(495,311,'b',32,'normal','#fff'),plain(823,311,'c',32,'normal','#000'),
  plain(189,651,'d',32,'normal','#fff'),plain(518,651,'e',32,'normal','#fff'),plain(843,651,'f',32,'normal','#000')
];
const chart=echarts.init(document.getElementById('c'),null,{renderer:'canvas'});
chart.setOption({animation:false,backgroundColor:'#fff',grid:grids,xAxis:xAxes,yAxis:yAxes,series,graphic:graphics});
</script></body></html>
